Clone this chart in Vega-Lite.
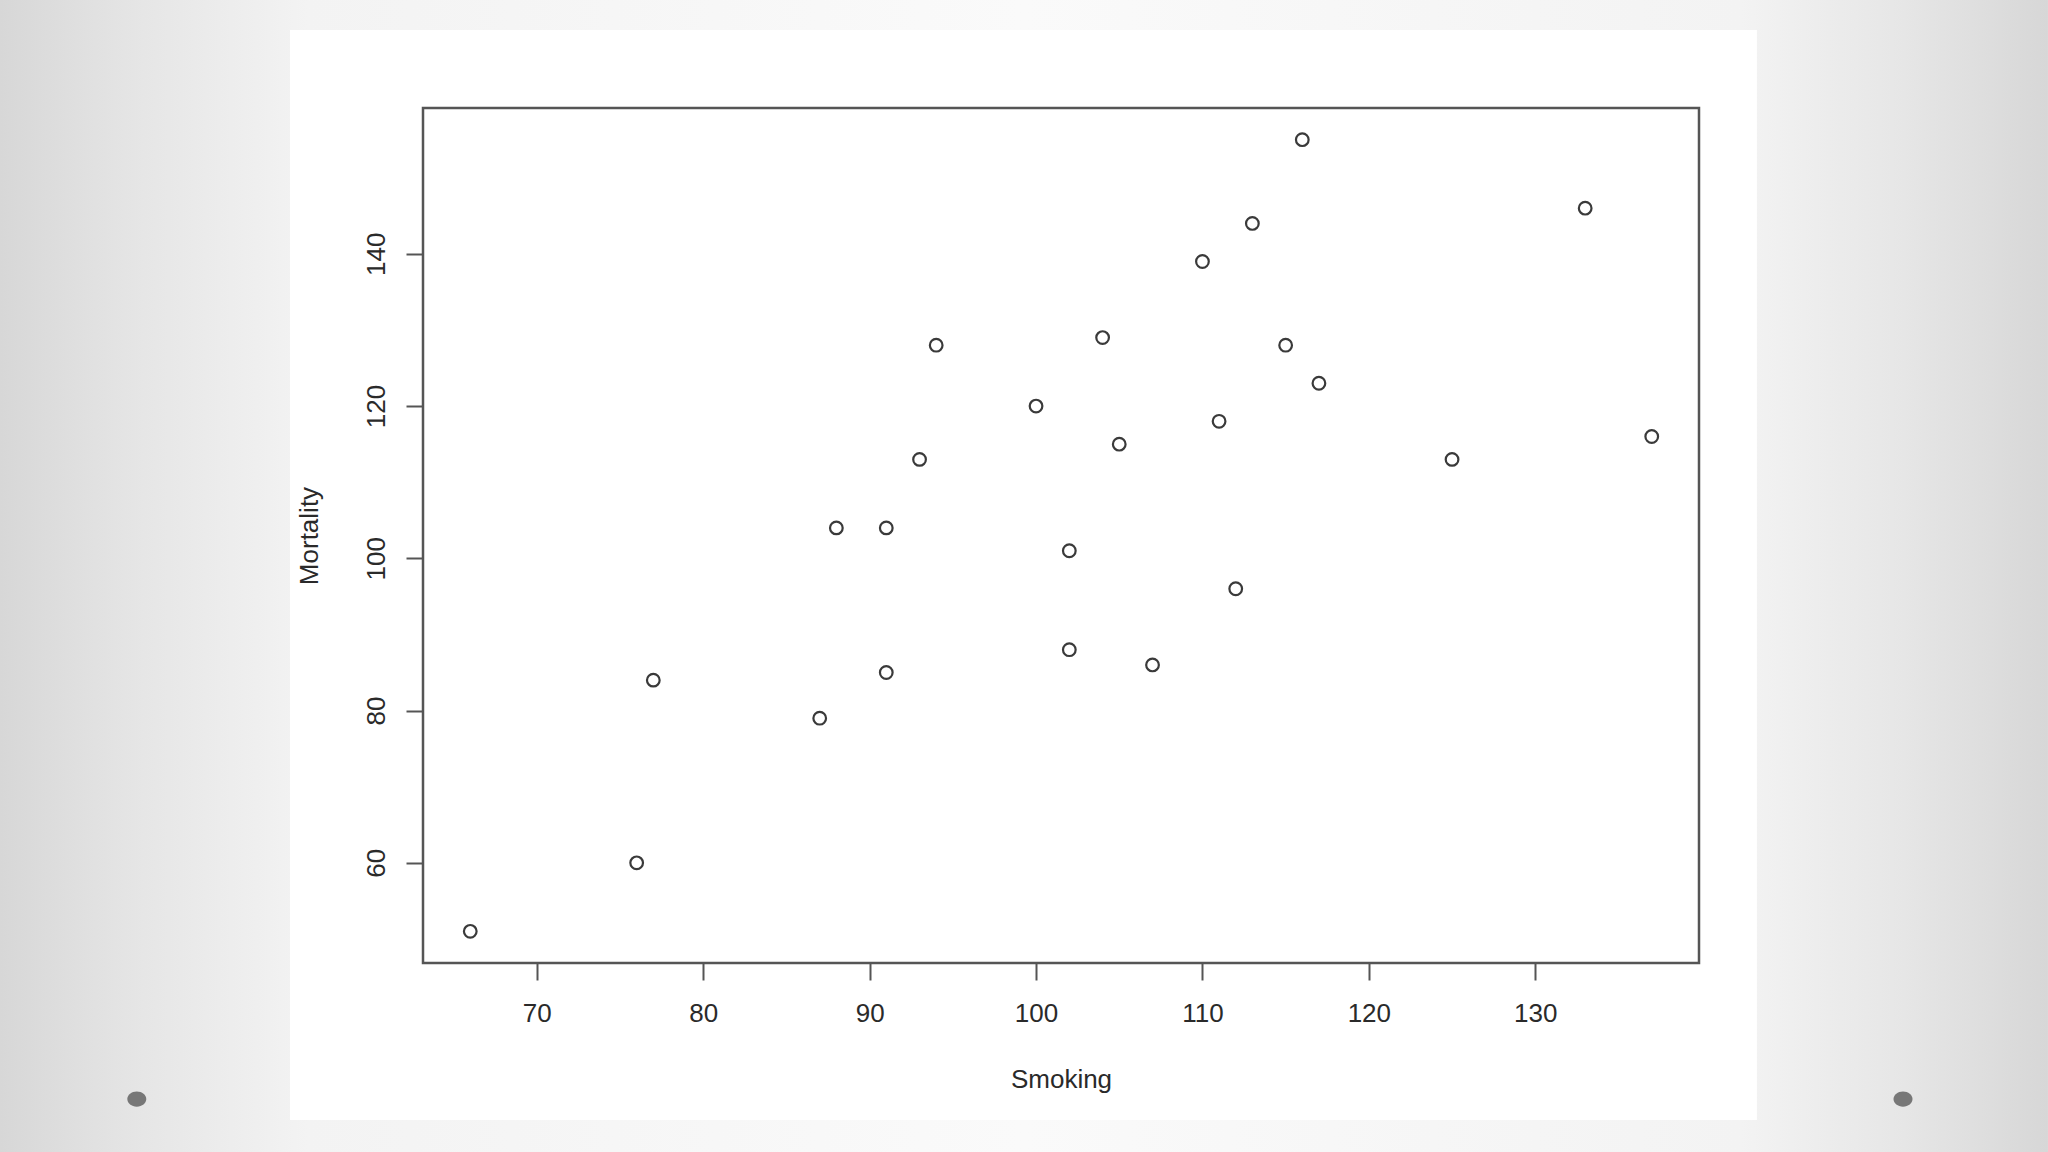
{
  "$schema": "https://vega.github.io/schema/vega-lite/v6.json",
  "autosize": "none",
  "width": 1276,
  "height": 855,
  "padding": {"left": 423, "top": 108, "right": 349, "bottom": 189},
  "background": "#eeeeee",
  "config": {
    "view": {"stroke": null},
    "font": "Liberation Sans",
    "axis": {
      "domain": false,
      "grid": false,
      "tickSize": 17,
      "tickWidth": 2,
      "tickColor": "#555555",
      "labelFont": "Liberation Sans",
      "labelFontSize": 26,
      "labelColor": "#2a2a2a",
      "labelFlush": false,
      "labelOverlap": false,
      "titleFont": "Liberation Sans",
      "titleFontSize": 26,
      "titleFontWeight": "normal",
      "titleColor": "#2a2a2a",
      "titleBaseline": "alphabetic"
    },
    "axisX": {
      "labelPadding": 20,
      "titleY": 124
    },
    "axisY": {
      "labelAngle": -90,
      "labelAlign": "center",
      "labelBaseline": "alphabetic",
      "labelPadding": 22,
      "titleAngle": -90,
      "titleX": -106
    }
  },
  "datasets": {
    "occupations": [
      {"Smoking": 77, "Mortality": 84},
      {"Smoking": 137, "Mortality": 116},
      {"Smoking": 117, "Mortality": 123},
      {"Smoking": 94, "Mortality": 128},
      {"Smoking": 116, "Mortality": 155},
      {"Smoking": 102, "Mortality": 101},
      {"Smoking": 111, "Mortality": 118},
      {"Smoking": 93, "Mortality": 113},
      {"Smoking": 88, "Mortality": 104},
      {"Smoking": 102, "Mortality": 88},
      {"Smoking": 91, "Mortality": 104},
      {"Smoking": 104, "Mortality": 129},
      {"Smoking": 107, "Mortality": 86},
      {"Smoking": 112, "Mortality": 96},
      {"Smoking": 113, "Mortality": 144},
      {"Smoking": 110, "Mortality": 139},
      {"Smoking": 125, "Mortality": 113},
      {"Smoking": 133, "Mortality": 146},
      {"Smoking": 115, "Mortality": 128},
      {"Smoking": 105, "Mortality": 115},
      {"Smoking": 87, "Mortality": 79},
      {"Smoking": 91, "Mortality": 85},
      {"Smoking": 100, "Mortality": 120},
      {"Smoking": 76, "Mortality": 60},
      {"Smoking": 66, "Mortality": 51}
    ]
  },
  "layer": [
    {
      "data": {"values": [{}]},
      "mark": {
        "type": "rect",
        "fill": {
          "gradient": "linear", "x1": 0, "y1": 0, "x2": 1, "y2": 0,
          "stops": [
            {"offset": 0, "color": "#d7d7d7"},
            {"offset": 0.07, "color": "#e6e6e6"},
            {"offset": 0.15, "color": "#f3f3f3"},
            {"offset": 0.5, "color": "#fafafa"},
            {"offset": 0.85, "color": "#f3f3f3"},
            {"offset": 0.93, "color": "#e6e6e6"},
            {"offset": 1, "color": "#d7d7d7"}
          ]
        }
      },
      "encoding": {
        "x": {"datum": 37.74, "type": "quantitative", "scale": {"domain": [63.16, 139.84], "nice": false, "zero": false}, "axis": {"title": "Smoking", "values": [70, 80, 90, 100, 110, 120, 130], "zindex": 2}},
        "x2": {"datum": 160.81},
        "y": {"datum": 173.35, "type": "quantitative", "scale": {"domain": [46.84, 159.16], "nice": false, "zero": false}, "axis": {"title": "Mortality", "values": [60, 80, 100, 120, 140], "zindex": 2}},
        "y2": {"datum": 22.01}
      }
    },
    {
      "data": {"values": [{}]},
      "mark": {"type": "rect", "fill": "#ffffff"},
      "encoding": {
        "x": {"datum": 55.17, "type": "quantitative", "axis": {"title": "Smoking", "values": [70, 80, 90, 100, 110, 120, 130], "zindex": 2}},
        "x2": {"datum": 143.32},
        "y": {"datum": 169.41, "type": "quantitative", "axis": {"title": "Mortality", "values": [60, 80, 100, 120, 140], "zindex": 2}},
        "y2": {"datum": 26.21}
      }
    },
    {
      "data": {"values": [{}]},
      "mark": {"type": "rect", "fill": null, "stroke": "#555555", "strokeWidth": 2.5},
      "encoding": {
        "x": {"datum": 63.16, "type": "quantitative", "axis": {"title": "Smoking", "values": [70, 80, 90, 100, 110, 120, 130], "zindex": 2}},
        "x2": {"datum": 139.84},
        "y": {"datum": 159.16, "type": "quantitative", "axis": {"title": "Mortality", "values": [60, 80, 100, 120, 140], "zindex": 2}},
        "y2": {"datum": 46.84}
      }
    },
    {
      "data": {"values": [{"px": 45.96, "py": 28.97}, {"px": 152.1, "py": 28.97}]},
      "mark": {
        "type": "point",
        "shape": "M -1 0 A 1 0.8 0 1 0 1 0 A 1 0.8 0 1 0 -1 0 Z",
        "filled": true,
        "fill": "#777777",
        "opacity": 1,
        "size": 361
      },
      "encoding": {
        "x": {"field": "px", "type": "quantitative", "axis": {"title": "Smoking", "values": [70, 80, 90, 100, 110, 120, 130], "zindex": 2}},
        "y": {"field": "py", "type": "quantitative", "axis": {"title": "Mortality", "values": [60, 80, 100, 120, 140], "zindex": 2}}
      }
    },
    {
      "data": {"name": "occupations"},
      "mark": {
        "type": "point",
        "shape": "circle",
        "filled": false,
        "stroke": "#3a3a3a",
        "strokeWidth": 2.2,
        "opacity": 1,
        "size": 160
      },
      "encoding": {
        "x": {"field": "Smoking", "type": "quantitative", "axis": {"title": "Smoking", "values": [70, 80, 90, 100, 110, 120, 130], "zindex": 2}},
        "y": {"field": "Mortality", "type": "quantitative", "axis": {"title": "Mortality", "values": [60, 80, 100, 120, 140], "zindex": 2}}
      }
    }
  ]
}
